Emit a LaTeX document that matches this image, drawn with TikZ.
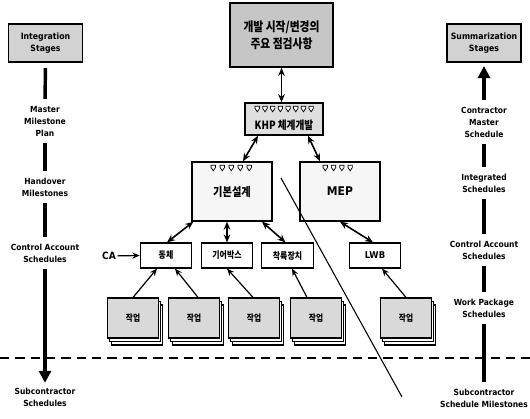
\documentclass[tikz,border=0pt]{standalone}
\usepackage{fontspec}
\newfontfamily\krfont[FakeStretch=0.85]{Noto Sans CJK KR}
\newfontfamily\sidefont{DejaVu Sans Condensed}
\usetikzlibrary{arrows.meta,calc}
\tikzset{
  sidetxt/.style={font=\sidefont\bfseries\fontsize{6.3}{9}\selectfont, align=center, inner sep=1pt},
  stagebox/.style={draw, line width=1.1pt, fill=gray!35, minimum width=55.5pt, minimum height=28.5pt,
    align=center, inner sep=0pt, font=\sidefont\bfseries\fontsize{6.5}{9}\selectfont},
  seg/.style={line width=2.6pt, shorten <=4pt, shorten >=4pt},
  bigarrow/.style={line width=2.6pt, shorten <=4pt, shorten >=2.5pt, -{Triangle[length=9pt,width=9pt]}},
  topbox/.style={draw, line width=1.3pt, fill=gray!45, minimum width=77.25pt, minimum height=48pt,
    align=center, inner sep=0pt, font=\krfont\bfseries\fontsize{9.5}{12.5}\selectfont},
  khpbox/.style={draw, line width=1.1pt, fill=gray!25, minimum width=58.5pt, minimum height=24pt, inner sep=0pt},
  midbox/.style={draw, line width=1.1pt, fill=gray!7, minimum width=60pt, minimum height=44.25pt, inner sep=0pt,
    font=\krfont\bfseries\fontsize{9}{10}\selectfont},
  subbox/.style={draw, line width=0.9pt, fill=white, minimum width=38.5pt, minimum height=18.75pt, inner sep=0pt,
    font=\krfont\bfseries\fontsize{7}{8}\selectfont},
  card/.style={draw, line width=0.9pt, fill=gray!30, minimum width=38.25pt, minimum height=30pt, inner sep=0pt,
    font=\krfont\bfseries\fontsize{6.8}{8}\selectfont},
  backcard/.style={draw, line width=0.8pt, fill=white},
  dbl/.style={line width=1.2pt, {Stealth[length=6pt,width=5pt]}-{Stealth[length=6pt,width=5pt]}},
  upar/.style={line width=0.9pt, -{Stealth[length=5.5pt,width=4.5pt]}},
  msmark/.pic={\draw[line width=0.55pt, fill=white] (-2.2,0) -- (2.2,0) -- (2.2,2.2) -- (0,5.5) -- (-2.2,2.2) -- cycle;}
}
\begin{document}
\begin{tikzpicture}[x=0.75pt,y=-0.75pt]
\useasboundingbox (0,0) rectangle (530,418);

% dashed separation line
\coordinate (dl) at (0,358);
\coordinate (dr) at (530,358);
\draw[line width=2pt, dash pattern=on 7pt off 4.5pt] (dl) -- (dr);

% left column
\node[stagebox] (int) at (45.5,43) {Integration\\Stages};
\node[sidetxt] (mmp) at (45,121) {Master\\Milestone\\Plan};
\node[sidetxt] (hm) at (45,187) {Handover\\Milestones};
\node[sidetxt] (cas) at (45,253) {Control Account\\Schedules};
\node[sidetxt] (subs) at (45,397) {Subcontractor\\Schedules};
\draw[seg] (int) -- (mmp);
\draw[seg] (mmp) -- (hm);
\draw[seg] (hm) -- (cas);
\draw[bigarrow] (cas) -- (subs);

% right column
\node[stagebox] (sum) at (484,43) {Summarization\\Stages};
\node[sidetxt] (cms) at (484,122) {Contractor\\Master\\Schedule};
\node[sidetxt] (isch) at (484,183) {Integrated\\Schedules};
\node[sidetxt] (cas2) at (484,250) {Control Account\\Schedules};
\node[sidetxt] (wps) at (484,308) {Work Package\\Schedules};
\node[sidetxt] (scm) at (484,398) {Subcontractor\\Schedule Milestones};
\draw[bigarrow] (cms) -- (sum);
\draw[seg] (cms) -- (isch);
\draw[seg] (isch) -- (cas2);
\draw[seg] (cas2) -- (wps);
\draw[seg] (wps) -- (scm);

% centre hierarchy
\node[topbox] (top) at (281.5,35) {개발 시작/변경의\\주요 점검사항};
\node[khpbox] (khp) at (284,119) {};
\node[font=\krfont\bfseries\fontsize{8.5}{10}\selectfont, inner sep=0pt] (khpt) at (284,125) {KHP 체계개발};
\foreach \i in {0,...,7} \pic at ($(khp.north west)+(13+\i*7.7,4)$) {msmark};

\node[midbox] (kb) at (232,191.5) {기본설계};
\foreach \i in {0,...,4} \pic at ($(kb.north west)+(22+\i*9,4)$) {msmark};
\node[midbox] (mep) at (340,191.5) {\sidefont\bfseries MEP};
\foreach \i in {0,...,3} \pic at ($(mep.north west)+(26+\i*8.3,4)$) {msmark};

\node[subbox] (dong) at (166,255.5) {동체};
\node[subbox] (gear) at (227,255.5) {기어박스};
\node[subbox] (land) at (287.5,255.5) {착륙장치};
\node[subbox] (lwb) at (375,255.5) {\sidefont\bfseries LWB};

\node[font=\sidefont\bfseries\fontsize{7.5}{9}\selectfont, inner sep=1pt] (ca) at (109,256) {CA};
\draw[upar] (ca) -- (dong.west);

% stacked work-package cards
\foreach \cx in {133,194,254,316,406} {
  \draw[backcard] (\cx-25.5+4,298+7) rectangle (\cx+25.5+4,338+7);
  \draw[backcard] (\cx-25.5+2,298+3.5) rectangle (\cx+25.5+2,338+3.5);
}
\node[card] (wp1) at (133,318) {작업};
\node[card] (wp2) at (194,318) {작업};
\node[card] (wp3) at (254,318) {작업};
\node[card] (wp4) at (316,318) {작업};
\node[card] (wp5) at (406,318) {작업};

% connectors
\draw[dbl] (top.south) -- (top.south |- khp.north);
\draw[dbl] ($(khp.south)+(-26,0)$) -- ($(kb.north)+(11,0)$);
\draw[dbl] ($(khp.south)+(24,0)$) -- ($(mep.north)+(-20,0)$);
\draw[dbl] ($(kb.south west)+(2,0)$) -- ($(dong.north)+(1,0)$);
\draw[dbl] (kb.south -| gear.north) -- (gear.north);
\draw[dbl] ($(kb.south)+(30,0)$) -- ($(land.north)+(-2,0)$);
\draw[dbl] (mep.south) -- ($(lwb.north)+(-2,0)$);

\draw[upar] (wp1.north) -- ($(dong.south)+(-9,0)$);
\draw[upar] ($(wp2.north)+(4,0)$) -- ($(dong.south)+(9,0)$);
\draw[upar] ($(wp3.north)+(-1,0)$) -- (gear.south);
\draw[upar] ($(wp4.north)+(-9,0)$) -- ($(land.south)+(4.5,0)$);
\draw[upar] (wp5.north) -- ($(lwb.south)+(7,0)$);

% diagonal divider
\coordinate (d1) at (281,178);
\coordinate (d2) at (402,397);
\draw[line width=0.8pt] (d1) -- (d2);
\end{tikzpicture}
\end{document}
